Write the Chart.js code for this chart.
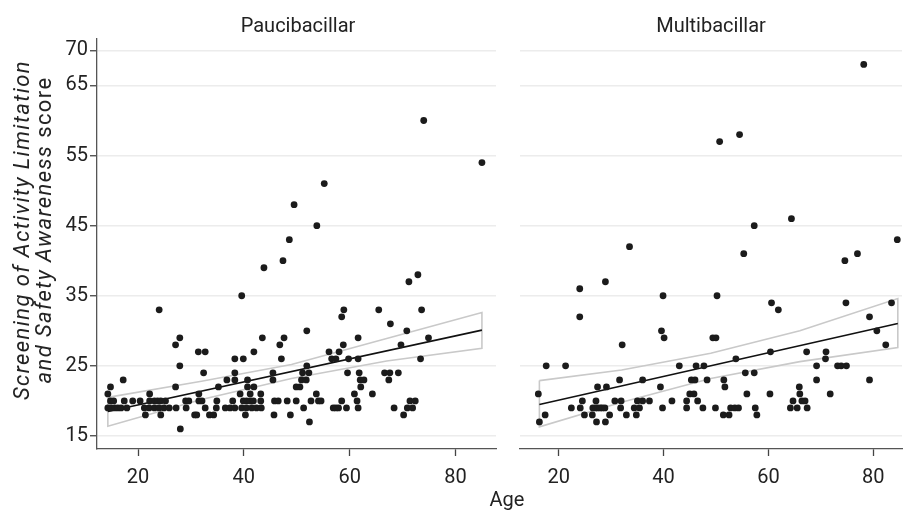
<!DOCTYPE html>
<html lang="en">
<head>
<meta charset="UTF-8">
<title>SALSA score by age</title>
<script src="https://cdn.jsdelivr.net/npm/chart.js@4.4.0/dist/chart.umd.min.js"></script>
<style>
  body { margin: 0; background: #fff; font-family: Roboto, sans-serif; color: #222; }
  #wrap { position: relative; width: 906px; height: 512px; overflow: hidden; }
  canvas { position: absolute; top: 0; }
  #left { left: 0; }
  #right { left: 516px; }
  .lbl { position: absolute; font-size: 20px; line-height: 24px; white-space: nowrap; transform: translateX(-50%); }
  #ytitle { position: absolute; left: 33px; top: 230px; font-size: 22px; line-height: 22px; letter-spacing: 1.4px;
            white-space: nowrap; text-align: center; transform: translate(-50%, -50%) rotate(-90deg); }
</style>
</head>
<body>
<div id="wrap">
  <canvas id="left" width="500" height="512"></canvas>
  <canvas id="right" width="390" height="512"></canvas>
  <div class="lbl" style="left:298px; top:13px;">Paucibacillar</div>
  <div class="lbl" style="left:711px; top:13px;">Multibacillar</div>
  <div class="lbl" style="left:507px; top:487px;">Age</div>
  <div id="ytitle"><i>Screening of Activity Limitation</i><br><i>and Safety Awareness</i> score</div>
</div>

<script>
// tick labels
const xTicks = [20, 40, 60, 80];
const yTicks = [15, 25, 35, 45, 55, 65, 70];

// Paucibacillar - scattered points (age, score)
const pbAge = [74, 85, 55.2, 49.5, 53.8, 48.6, 47.4, 43.8, 72.9, 71.2,
    24, 39.6, 27.9, 27.1, 31.4, 32.7, 27.9, 32.4, 38.3, 39.9, 41.9, 43.5, 46.8, 47.6, 47.1, 45.5, 45.5,
    17.2, 14.8, 14.3, 27.1, 22.2, 31.5, 36.8, 38.3, 40.7, 38.3, 35.2, 40.7, 41.9, 39.3, 41.2, 43.2, 49.9,
    58.9, 58.5, 65.5, 73.6, 67.7, 51.9, 70.8, 61.6, 74.9, 58.8, 69.7, 56.1, 58, 56.6, 57.4, 59.8, 61.6, 73.4,
    51.9, 51.1, 52.3, 59.6, 61.8, 66.6, 67.6, 69.2, 50.9, 51.8, 62, 62.7, 67.4, 50.6, 62.1, 53.7, 60.9, 64.3];
const pbScore = [60, 54, 51, 48, 45, 43, 40, 39, 38, 37,
    33, 35, 29, 28, 27, 27, 25, 24, 26, 26, 27, 29, 28, 29, 26, 24, 23,
    23, 22, 21, 22, 21, 21, 23, 23, 23, 24, 22, 22, 22, 21, 21, 21, 22,
    33, 32, 33, 33, 31, 30, 30, 29, 29, 28, 28, 27, 27, 26, 26, 26, 26, 26,
    25, 24, 24, 24, 24, 24, 24, 24, 23, 23, 23, 23, 23, 22, 22, 21, 21, 21];
// Paucibacillar - ages of the points sitting on the dense low rows
const pbAt20 = [14.8, 15.4, 17.4, 19, 20.4, 22.2, 23.1, 23.7, 24.3, 25.2, 29, 29.6, 31.5, 32.1, 34.9, 37.9,
    39.9, 40.5, 41.2, 41.8, 43.2, 45.8, 46.5, 48.2, 49.9, 52.7, 54.1, 54.6, 58.5, 61.4, 71.4, 72.4];
const pbAt19 = [14.3, 14.9, 15.6, 16.2, 16.8, 17.9, 21.2, 22.1, 23.1, 24, 24.9, 25.9, 27.2, 29.1, 32.7, 34.8,
    36.5, 37.4, 38.3, 39.6, 40.5, 41.5, 42.4, 43.3, 51.3, 56.9, 57.4, 57.9, 59.4, 61.6, 68.4, 70.9, 71.9];
const pbAt18 = [21.4, 24.3, 30.7, 31.1, 33.5, 34.3, 40.3, 45.7, 48.8, 70.2];
const pbAt17 = [52.4];
const pbAt16 = [28];

// Multibacillar - scattered points (age, score)
const mbAge = [78.2, 50.7, 54.5, 57.3, 64.4, 33.5, 55.3, 77, 74.6, 84.6,
    24, 28.9, 24, 39.9, 39.6, 40.1, 32.1, 17.6, 21.3, 43, 46.2, 47.7, 31.6, 36, 45.3, 46, 48.3,
    27.4, 29.1, 39.4, 16.1, 45, 45.8,
    50.2, 60.6, 61.9, 74.8, 83.5, 79.3, 80.7, 49.4, 50, 82.4, 53.8, 60.4, 67.3, 71, 70.9, 69.2, 73.2, 73.9, 74.9,
    55.6, 57.3, 51.5, 69.2, 79.3, 51.7, 65.9, 55.9, 60.3, 66, 71.8];
const mbScore = [68, 57, 58, 45, 46, 42, 41, 41, 40, 43,
    36, 37, 32, 35, 30, 29, 28, 25, 25, 25, 25, 25, 23, 23, 23, 23, 23,
    22, 22, 22, 21, 21, 21,
    35, 34, 33, 34, 34, 32, 30, 29, 29, 28, 26, 27, 27, 27, 26, 25, 25, 25, 25,
    24, 24, 23, 23, 23, 22, 22, 21, 21, 21, 21];
const mbAt20 = [24.5, 27.1, 30.7, 31.9, 35, 36, 37.3, 41.6, 44.4, 46.5, 64.7, 66.4, 67];
const mbAt19 = [22.4, 24.1, 26.5, 27, 27.4, 27.9, 28.3, 28.8, 31.8, 34.4, 35.4, 39.8, 44.4, 47.5,
    49.9, 52.8, 53.6, 54.3, 57.5, 64.2, 65.5, 67.4];
const mbAt18 = [17.4, 24.9, 26.4, 29.7, 32.9, 34.8, 51.4, 52.5, 57.8];
const mbAt17 = [16.3, 27.2, 28.9];

// fitted line and its confidence band
const pbFitAge = [14.3, 85];
const pbFit = [18.5, 30.1];
const pbBandAge = [14.3, 32, 49, 67, 85];
const pbUpper = [20.5, 22.8, 25.2, 28.9, 32.6];
const pbLower = [16.4, 20.2, 23.2, 25.7, 27.5];

const mbFitAge = [16.3, 84.7];
const mbFit = [19.5, 31.05];
const mbBandAge = [16.3, 32, 49, 66, 84.7];
const mbUpper = [22.9, 24.4, 26.8, 30.0, 34.6];
const mbLower = [16.3, 19.8, 23.2, 25.6, 27.6];

Chart.defaults.font.family = 'Roboto';
Chart.defaults.font.size = 20;
Chart.defaults.color = '#222';

function pairs(xs, ys) {
    return xs.map((x, i) => ({ x: x, y: ys[i] }));
}
function onRow(xs, score) {
    return xs.map(x => ({ x: x, y: score }));
}
// closed outline: upper curve, right edge, lower curve back, left edge
function band(ages, up, lo) {
    const pts = pairs(ages, up);
    for (let i = ages.length - 1; i >= 0; i--) pts.push({ x: ages[i], y: lo[i] });
    pts.push({ x: ages[0], y: up[0] });
    return pts;
}

function panel(id, points, fit, outline, xMin, xMax, showY) {
    return new Chart(document.getElementById(id), {
        type: 'scatter',
        data: {
            datasets: [
                { data: points, pointRadius: 3.4, pointBackgroundColor: '#1b1b1b', pointBorderWidth: 0 },
                { data: fit, showLine: true, borderColor: '#111', borderWidth: 1.6, pointRadius: 0 },
                { data: outline, showLine: true, borderColor: '#c9c9c9', borderWidth: 1.6, pointRadius: 0 }
            ]
        },
        options: {
            responsive: false,
            animation: false,
            events: [],
            layout: { padding: { top: 39, left: 0, right: 0, bottom: 0 } },
            plugins: { legend: { display: false }, tooltip: { enabled: false } },
            scales: {
                x: {
                    type: 'linear', min: xMin, max: xMax,
                    afterBuildTicks: s => { s.ticks = xTicks.map(v => ({ value: v })); },
                    afterFit: s => { s.height = 63; },
                    grid: { drawOnChartArea: false, tickLength: 7, tickColor: '#444', tickWidth: 1.3 },
                    border: { color: '#555', width: 1.3 },
                    ticks: { padding: 10, autoSkip: false, maxRotation: 0 }
                },
                y: {
                    type: 'linear', min: 13.14, max: 71.63,
                    afterBuildTicks: s => { s.ticks = yTicks.map(v => ({ value: v })); },
                    afterFit: s => { s.width = showY ? 97 : 0; },
                    grid: { color: '#ececec', lineWidth: 1.5, tickLength: 7, tickColor: '#444', tickWidth: 1.3, drawTicks: showY },
                    border: { display: showY, color: '#555', width: 1.3 },
                    ticks: { display: showY, padding: 2, autoSkip: false }
                }
            }
        }
    });
}

const pbPoints = pairs(pbAge, pbScore)
    .concat(onRow(pbAt20, 20), onRow(pbAt19, 19), onRow(pbAt18, 18), onRow(pbAt17, 17), onRow(pbAt16, 16));
const mbPoints = pairs(mbAge, mbScore)
    .concat(onRow(mbAt20, 20), onRow(mbAt19, 19), onRow(mbAt18, 18), onRow(mbAt17, 17));

panel('left', pbPoints, pairs(pbFitAge, pbFit), band(pbBandAge, pbUpper, pbLower), 12.25, 87.66, true);
panel('right', mbPoints, pairs(mbFitAge, mbFit), band(mbBandAge, mbUpper, mbLower), 12.6, 85.5, false);
</script>
</body>
</html>
